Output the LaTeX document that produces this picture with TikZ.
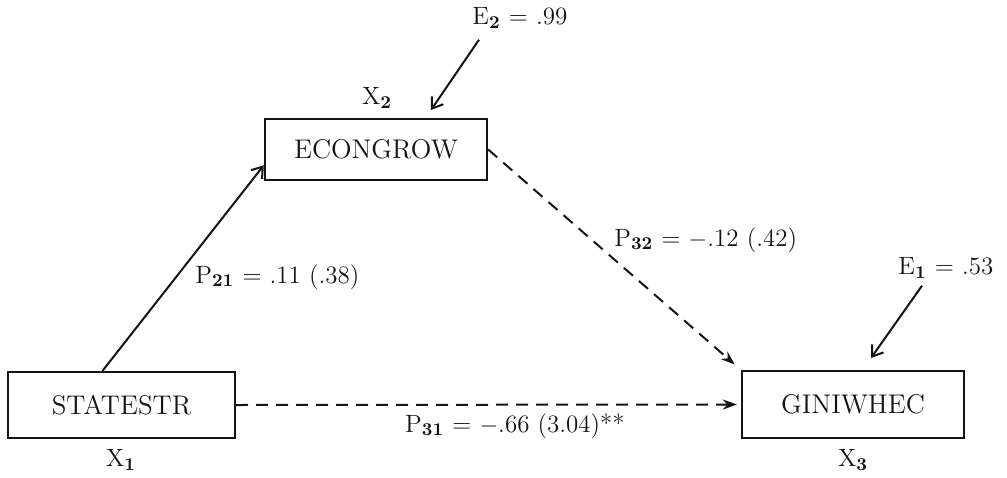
\documentclass[tikz,border=0pt]{standalone}
\usetikzlibrary{arrows.meta}
\definecolor{ink}{HTML}{141414}
\tikzset{
  var/.style={draw=ink, line width=1.2pt, minimum width=111pt, minimum height=32pt, inner sep=0pt, font=\fontsize{13.5}{15}\selectfont, text=ink},
  lbl/.style={font=\fontsize{12.5}{14}\selectfont, text=ink, inner sep=1pt},
  pa/.style={draw=ink, line width=1pt, -{Straight Barb[length=5pt, width=7pt]}},
  pd/.style={draw=ink, line width=1pt, dash pattern=on 6pt off 4pt, -{Stealth[length=7pt, width=5pt]}},
}

\begin{document}
\begin{tikzpicture}[x=0.5pt, y=-0.5pt]
  \useasboundingbox (0,0) rectangle (1007,477);

  % the three variables
  \node[var, minimum width=113.5pt, minimum height=33pt] (statestr) at (121.5,405) {STATESTR};
  \node[var, minimum height=30.5pt] (econgrow) at (376,149.5) {ECONGROW};
  \node[var, minimum height=33.5pt] (giniwhec) at (853,404.5) {GINIWHEC};
  \node[lbl] (x1) at (121,460) {X$_{\mathbf 1}$};
  \node[lbl] (x2) at (377,98) {X$_{\mathbf 2}$};
  \node[lbl] (x3) at (853,460) {X$_{\mathbf 3}$};

  % residuals
  \node[lbl, anchor=west] (e2) at (470,18) {E$_{\mathbf 2}$ = .99};
  \coordinate (e2tip) at (431,110);
  \draw[pa] ([xshift=4.5pt, yshift=-4.5pt]e2.south west) -- (e2tip);
  \node[lbl, anchor=west] (e1) at (896,268) {E$_{\mathbf 1}$ = .53};
  \coordinate (e1tip) at (871,358);
  \draw[pa] ([xshift=13pt, yshift=-2.5pt]e1.south west) -- (e1tip);

  % paths
  \draw[pa] (statestr.119) -- (econgrow.188);
  \draw[pd, shorten >=4pt] (econgrow.east) -- (giniwhec.north west);
  \draw[pd, shorten >=2pt] (statestr.east) -- (giniwhec.west);
  \node[lbl, anchor=west] (p21) at (193,277) {P$_{\mathbf{21}}$ = .11 (.38)};
  \node[lbl, anchor=west] (p32) at (612,240) {P$_{\mathbf{32}}$ = $-$.12 (.42)};
  \node[lbl] (p31) at (515,426) {P$_{\mathbf{31}}$ = $-$.66 (3.04)**};
\end{tikzpicture}
\end{document}
